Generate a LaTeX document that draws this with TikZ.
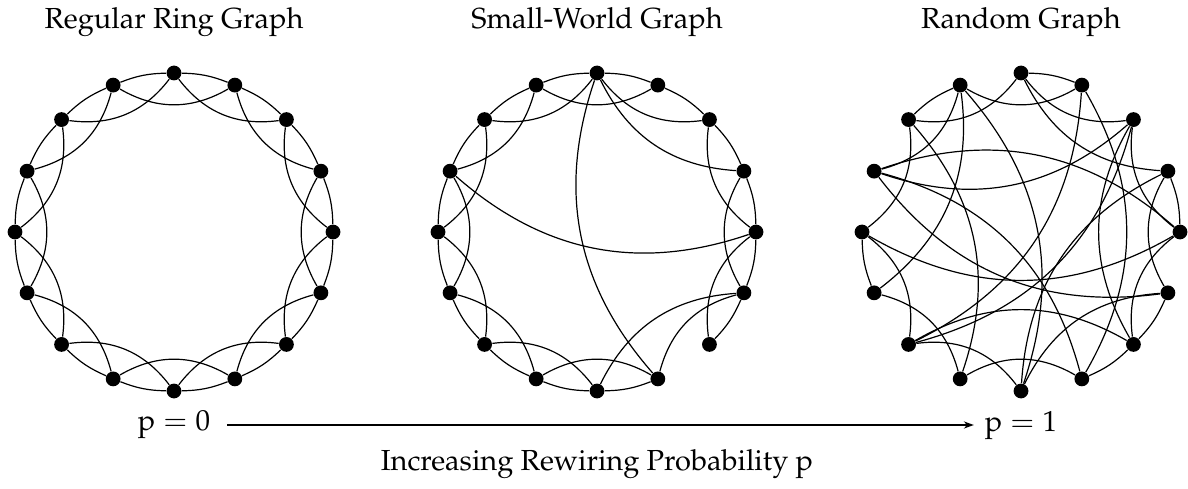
\documentclass[tikz,border=0pt]{standalone}
\usepackage[T1]{fontenc}
\usepackage{mathpazo}
\usetikzlibrary{arrows.meta}

\begin{document}
\begin{tikzpicture}[x=0.5pt, y=0.5pt, >={Stealth[length=5pt,width=3.6pt]},
  every node/.style={font=\fontsize{14.5}{17}\selectfont},
  vertex/.style={circle, fill=black, inner sep=0pt, minimum size=7.4pt},
  edge/.style={line width=0.6pt},
  ringarc/.style={bend right=10},
  hoparc/.style={bend left=30}]
\useasboundingbox (0,0) rectangle (1188,488);

% regular ring graph
\begin{scope}[shift={(174,256)}]
\foreach \k in {0,...,15} \node[vertex] (r\k) at ({90+22.5*\k}:159) {};
\foreach \k [evaluate=\k as \n using {int(mod(\k+1,16))},
             evaluate=\k as \m using {int(mod(\k+2,16))}] in {0,...,15} {
  \draw[edge] (r\k) to[ringarc] (r\n);
  \draw[edge] (r\k) to[hoparc] (r\m);
}
\end{scope}

% small-world graph
\begin{scope}[shift={(597,256)}]
\foreach \k in {0,...,15} \node[vertex] (s\k) at ({90+22.5*\k}:159) {};
\foreach \a/\b in {0/1,1/2,2/3,3/4,4/5,5/6,6/7,7/8,8/9,10/11,11/12,12/13,13/14,14/15,15/0}
  \draw[edge] (s\a) to[ringarc] (s\b);
\foreach \a/\b in {0/2,1/3,2/4,3/5,4/6,5/7,6/8,7/9,9/11,10/12,11/13,12/14,14/0,15/1,
                   13/0,9/0,12/3,8/11}
  \draw[edge] (s\a) to[hoparc] (s\b);
\end{scope}

% random graph
\begin{scope}[shift={(1021,256)}]
\foreach \k in {0,...,15} \node[vertex] (q\k) at ({90+22.5*\k}:159) {};
\foreach \a/\b in {15/0,1/2,4/5,9/10,10/11,12/13}
  \draw[edge] (q\a) to[ringarc] (q\b);
\foreach \a/\b/\s in {15/1/30,14/0/30,0/2/30,1/3/30,2/4/30,4/6/30,5/7/30,6/8/30,
                      7/9/30,10/12/30,11/13/30,12/14/30,13/0/30,1/5/30,2/7/30,
                      12/3/-30,14/3/30,3/11/-30,4/12/-30,9/15/-30,10/14/30,
                      6/10/30,8/11/30,1/8/30,15/6/30,8/13/30,3/9/30,6/14/-30}
  \draw[edge] (q\a) to[bend left=\s] (q\b);
\end{scope}

\node (tring) at (174,466) {Regular Ring Graph};
\node (tsmall) at (597,466) {Small-World Graph};
\node (trand) at (1021,466) {Random Graph};

\node (p0) at (174,63) {$\mathrm{p}=0$};
\node (p1) at (1021,63) {$\mathrm{p}=1$};
\draw[->, edge, shorten <=5pt, shorten >=2pt] (p0) -- (p1);
\node (lbl) at (597,24) {Increasing Rewiring Probability $\mathrm{p}$};
\end{tikzpicture}
\end{document}
